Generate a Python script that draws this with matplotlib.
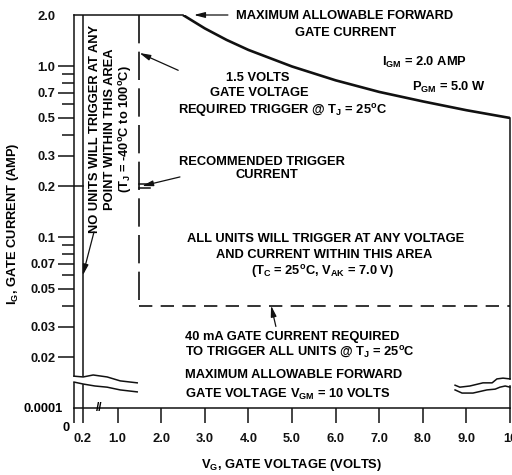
import numpy as np
import matplotlib
matplotlib.use('Agg')
import matplotlib.pyplot as plt
from matplotlib.ticker import FixedLocator, NullFormatter

# gate trigger characteristics
vg_curve = [2.5, 3.0, 3.5, 4.0, 5.0, 6.0, 7.0, 8.0, 9.0, 10.0]
ig_curve = [2.0, 1.67, 1.43, 1.25, 1.0, 0.83, 0.71, 0.625, 0.555, 0.5]
ig_max = 2.0
vg_max = 10.0
vg_trigger = 1.5
ig_trigger = 0.04
vg_no_trigger = 0.2
ig_recommended = 0.2
ig_break_left = 0.0155
ig_break_right = 0.0149

ig_major = [2.0, 1.0, 0.7, 0.5, 0.3, 0.2, 0.1, 0.07, 0.05, 0.03, 0.02]
ig_major_labels = ['2.0', '1.0', '0.7', '0.5', '0.3', '0.2', '0.1', '0.07', '0.05', '0.03', '0.02']
ig_minor = [0.9, 0.8, 0.6, 0.4, 0.09, 0.08, 0.06, 0.04]
vg_ticks = [0, 0.2, 1, 2, 3, 4, 5, 6, 7, 8, 9, 10]
vg_tick_labels = ['', '0.2', '1.0', '2.0', '3.0', '4.0', '5.0', '6.0', '7.0', '8.0', '9.0', '10']
ig_low = 0.0001

# axis break squiggles, in axes fractions of the main axes
brk_left_up_x = [0, 0.021, 0.044, 0.076, 0.106, 0.145]
brk_left_up_y = [0.081, 0.079, 0.084, 0.079, 0.069, 0.064]
brk_left_lo_x = [0, 0.021, 0.048, 0.076, 0.106, 0.145]
brk_left_lo_y = [0.066, 0.061, 0.056, 0.053, 0.046, 0.041]
brk_right_up_x = [0.874, 0.885, 0.908, 0.938, 0.959, 0.970, 0.984, 1.0]
brk_right_up_y = [0.058, 0.053, 0.056, 0.064, 0.064, 0.074, 0.076, 0.074]
brk_right_lo_x = [0.874, 0.890, 0.915, 0.947, 0.966, 0.977, 0.989, 1.0]
brk_right_lo_y = [0.046, 0.038, 0.038, 0.046, 0.048, 0.053, 0.056, 0.053]

plt.rcParams['font.family'] = ['Liberation Sans', 'DejaVu Sans']
plt.rcParams['font.weight'] = 'bold'
plt.rcParams['axes.labelweight'] = 'bold'
plt.rcParams['font.size'] = 9.3
plt.rcParams['mathtext.fontset'] = 'custom'
plt.rcParams['mathtext.rm'] = 'Liberation Sans:bold'
plt.rcParams['mathtext.it'] = 'Liberation Sans:bold'
plt.rcParams['mathtext.bf'] = 'Liberation Sans:bold'

W, H = 512, 475
def rect(x0, y0, x1, y1):
	return [x0 / W, 1 - y1 / H, (x1 - x0) / W, (y1 - y0) / H]

fig = plt.figure(figsize=(W / 100, H / 100), dpi=100)
ax = fig.add_axes(rect(74, 15, 510, 408))
axb = fig.add_axes(rect(74, 383, 510, 408))
axb.patch.set_alpha(0)

k = '#111111'
lw = 1.1

# upper (log) part
ax.set_yscale('log')
ax.set_xlim(0, vg_max)
ax.set_ylim(0.01007, ig_max)
for s in ax.spines.values():
	s.set_linewidth(lw)
	s.set_color(k)
ax.spines['bottom'].set_visible(False)
ax.spines['left'].set_bounds(ig_break_left, ig_max)
ax.spines['top'].set_bounds(0, vg_curve[0])
ax.spines['right'].set_bounds(ig_break_right, ig_curve[-1])
ax.set_xticks([])
ax.yaxis.set_major_locator(FixedLocator(ig_major))
ax.set_yticklabels(ig_major_labels)
ax.yaxis.set_minor_locator(FixedLocator(ig_minor))
ax.yaxis.set_minor_formatter(NullFormatter())
ax.tick_params(axis='y', which='major', direction='out', length=11.5, width=lw, pad=2, colors=k)
ax.tick_params(axis='y', which='minor', direction='out', length=8.5, width=lw, colors=k)
ax.yaxis.get_major_ticks()[0].tick1line.set_visible(False)
ax.set_ylabel('I$_G$, GATE CURRENT (AMP)')
ax.yaxis.set_label_coords(-0.121, 0.468)

# power limit curve
ax.plot(vg_curve, ig_curve, color=k, lw=1.9, solid_capstyle='butt')
# 0.2 V line
ax.plot([vg_no_trigger, vg_no_trigger], [ig_break_left, ig_max], color=k, lw=lw)
ax.plot([0, vg_no_trigger], [ig_recommended, ig_recommended], color=k, lw=lw)
# trigger region boundary
ax.plot([vg_trigger, vg_trigger], [ig_max, ig_trigger], color=k, lw=1.2, dashes=(17, 5))
ax.plot([vg_trigger, vg_max], [ig_trigger, ig_trigger], color=k, lw=1.2, dashes=(8, 5))
# recommended trigger current mark
ax.plot([vg_trigger, vg_trigger + 0.25], [ig_recommended * 1.03, ig_recommended * 1.03], color=k, lw=lw)
ax.plot([vg_trigger, vg_trigger + 0.25], [ig_recommended * 0.97, ig_recommended * 0.97], color=k, lw=lw)

for bx, by in [(brk_left_up_x, brk_left_up_y), (brk_left_lo_x, brk_left_lo_y),
			   (brk_right_up_x, brk_right_up_y), (brk_right_lo_x, brk_right_lo_y)]:
	ax.plot(bx, by, color=k, lw=lw, transform=ax.transAxes, clip_on=False)

arr = dict(arrowstyle='-|>,head_length=0.7,head_width=0.18', color=k, lw=0.9, shrinkA=0, shrinkB=0)

ax.annotate('', xy=(2.75, 2.0), xytext=(3.53, 2.0), arrowprops=arr)
ax.text(3.72, 1.97, 'MAXIMUM ALLOWABLE FORWARD', ha='left', va='center')
ax.text(6.22, 1.57, 'GATE CURRENT', ha='center', va='center')
ax.text(7.06, 1.06, 'I$_{GM}$ = 2.0 AMP', ha='left', va='center')
ax.text(7.75, 0.75, 'P$_{GM}$ = 5.0 W', ha='left', va='center')

ax.text(4.22, 0.857, '1.5 VOLTS', ha='center', va='center')
ax.text(4.24, 0.70, 'GATE VOLTAGE', ha='center', va='center')
ax.text(2.39, 0.556, 'REQUIRED TRIGGER @ T$_J$ = 25$^o$C', ha='left', va='center')
ax.annotate('', xy=(vg_trigger, 1.2), xytext=(2.39, 0.95), arrowprops=arr)

ax.text(2.41, 0.276, 'RECOMMENDED TRIGGER', ha='left', va='center')
ax.text(4.43, 0.232, 'CURRENT', ha='center', va='center')
ax.annotate('', xy=(1.56, ig_recommended), xytext=(2.43, 0.226), arrowprops=arr)

ax.text(0.48, 0.43, 'NO UNITS WILL TRIGGER AT ANY', rotation=90, ha='center', va='center')
ax.text(0.83, 0.43, 'POINT WITHIN THIS AREA', rotation=90, ha='center', va='center')
ax.text(1.19, 0.43, '(T$_J$ = -40$^o$C to 100$^o$C)', rotation=90, ha='center', va='center')
ax.annotate('', xy=(vg_no_trigger, 0.06), xytext=(0.46, 0.108), arrowprops=arr)

ax.text(5.76, 0.098, 'ALL UNITS WILL TRIGGER AT ANY VOLTAGE', ha='center', va='center')
ax.text(5.73, 0.079, 'AND CURRENT WITHIN THIS AREA', ha='center', va='center')
ax.text(5.71, 0.0636, '(T$_C$ = 25$^o$C, V$_{AK}$ = 7.0 V)', ha='center', va='center')

ax.text(2.55, 0.0262, '40 mA GATE CURRENT REQUIRED', ha='left', va='center')
ax.text(2.55, 0.0212, 'TO TRIGGER ALL UNITS @ T$_J$ = 25$^o$C', ha='left', va='center')
ax.annotate('', xy=(4.52, ig_trigger), xytext=(4.63, 0.0302), arrowprops=arr)

ax.text(2.55, 0.0156, 'MAXIMUM ALLOWABLE FORWARD', ha='left', va='center')
ax.text(2.55, 0.0121, 'GATE VOLTAGE V$_{GM}$ = 10 VOLTS', ha='left', va='center')

# lower part, the 0.0001 A base line
axb.set_xlim(0, vg_max)
axb.set_ylim(ig_low, 2 * ig_low)
for s in axb.spines.values():
	s.set_linewidth(lw)
	s.set_color(k)
axb.spines['top'].set_visible(False)
axb.spines['right'].set_bounds(ig_low, ig_low * 1.88)
axb.set_yticks([ig_low])
axb.set_yticklabels(['0.0001'])
axb.tick_params(axis='y', length=0, pad=8)
axb.set_xticks(vg_ticks)
axb.set_xticklabels(vg_tick_labels)
axb.tick_params(axis='x', direction='out', length=10.8, width=lw, pad=7, colors=k)
axb.axvline(vg_no_trigger, ymax=0.92, color=k, lw=lw)
axb.annotate('0', xy=(0, ig_low), xytext=(-6, -14.5), textcoords='offset points', ha='center', va='center')
axb.text(0.58, ig_low, '//', ha='center', va='center', fontsize=8.5)
axb.set_xlabel('V$_G$, GATE VOLTAGE (VOLTS)', labelpad=9)

fig.savefig('out.png', dpi=100)
plt.close()
